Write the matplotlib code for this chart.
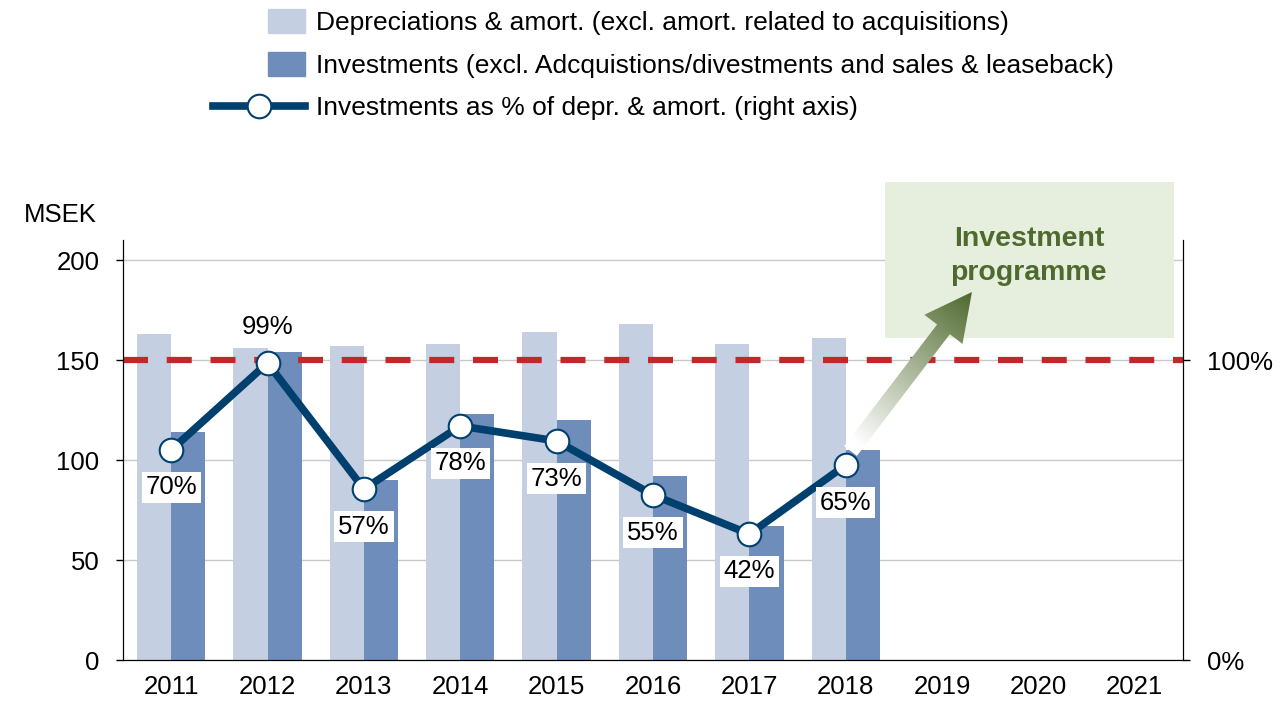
import numpy as np
import matplotlib.pyplot as plt
from matplotlib.patches import Patch, Rectangle, FancyArrow
from matplotlib.lines import Line2D
from matplotlib.colors import LinearSegmentedColormap
from matplotlib.transforms import IdentityTransform

plt.rcParams['font.family'] = ['Liberation Sans', 'DejaVu Sans']

# Data
years = ['2011', '2012', '2013', '2014', '2015', '2016', '2017', '2018', '2019', '2020', '2021']
depreciation = [163, 156, 157, 158, 164, 168, 158, 161]
investments = [114, 154, 90, 123, 120, 92, 67, 105]
invest_pct = [70, 99, 57, 78, 73, 55, 42, 65]
pct_labels = ['70%', '99%', '57%', '78%', '73%', '55%', '42%', '65%']

c_dep = '#C4CFE1'
c_inv = '#6E8DBA'
c_line = '#00406F'
c_red = '#C0282A'
c_green = '#4F6A2E'

fig = plt.figure(figsize=(12.88, 7.01), dpi=100)
ax = fig.add_axes([123 / 1288, 41 / 701, 1060 / 1288, 420 / 701])

x = np.arange(len(years))
n = len(depreciation)
w = 0.355
ax.bar(x[:n] - w / 2, depreciation, w, color=c_dep, zorder=2)
ax.bar(x[:n] + w / 2, investments, w, color=c_inv, zorder=2)
ax.set_xlim(-0.5, 10.5)
ax.set_ylim(0, 210)
ax.set_yticks([0, 50, 100, 150, 200])
ax.set_xticks(x)
ax.set_xticklabels(years)
ax.grid(axis='y', color='#C8C8C8', lw=1)
ax.set_axisbelow(True)
ax.axhline(150, color=c_red, lw=4.5, dashes=(4, 3), zorder=3)
ax.tick_params(axis='y', direction='out', length=5, width=1, pad=12, labelsize=18.5)
ax.tick_params(axis='x', length=0, pad=11, labelsize=18.5)
ax.spines['top'].set_visible(False)

# right axis for percentages
ax2 = ax.twinx()
ax2.set_ylim(0, 140)
ax2.set_yticks([0, 100])
ax2.set_yticklabels(['0%', '100%'])
ax2.tick_params(axis='y', direction='out', length=5, width=1, pad=12, labelsize=18.5)
ax2.spines['top'].set_visible(False)
ax2.plot(x[:n], invest_pct, color=c_line, lw=5.5, marker='o', ms=17,
         mfc='white', mec=c_line, mew=1.5, zorder=5)
for i, (v, lab) in enumerate(zip(invest_pct, pct_labels)):
    off = 26 if i == 1 else -27
    ax2.annotate(lab, (x[i], v), xytext=(0, off), textcoords='offset points',
                 ha='center', va='center', fontsize=18.5, zorder=6,
                 bbox=dict(boxstyle='square,pad=0.15', fc='white', ec='none'))

# "Investment programme" box
ax.add_patch(Rectangle((7.41, 161), 3.0, 78, fc='#E6EFDD', ec='none',
                       clip_on=False, zorder=3))
ax.text(8.9, 202, 'Investment\nprogramme', ha='center', va='center',
        fontsize=20.5, fontweight='bold', color=c_green, linespacing=1.38, zorder=5)

# gradient arrow
fig.canvas.draw()
p0 = ax.transData.transform((7.05, 104.5))
p1 = ax.transData.transform((8.31, 184))
d = p1 - p0
arrow = FancyArrow(p0[0], p0[1], d[0], d[1], width=16, head_width=48,
                   head_length=47, length_includes_head=True,
                   transform=IdentityTransform(), fc='none', ec='none')
ax.add_patch(arrow)
cmap = LinearSegmentedColormap.from_list('g', ['#FFFFFF', c_green])
gx = np.linspace(6.8, 8.7, 200)
gy = np.linspace(90, 200, 200)
GX, GY = np.meshgrid(gx, gy)
pts = ax.transData.transform(np.column_stack([GX.ravel(), GY.ravel()]))
t = ((pts - p0) @ d) / (d @ d)
t = np.clip(t, 0, 1).reshape(GX.shape)
im = ax.imshow(t, extent=(gx[0], gx[-1], gy[0], gy[-1]), origin='lower',
               cmap=cmap, aspect='auto', zorder=4, vmin=0.05, vmax=1.0)
im.set_clip_path(arrow)
ax.set_xlim(-0.5, 10.5)
ax.set_ylim(0, 210)

fig.text(24 / 1288, 1 - 215 / 701, 'MSEK', fontsize=18.5, va='center', ha='left')

# legends
h1 = [Patch(color=c_dep), Patch(color=c_inv)]
l1 = ['Depreciations & amort. (excl. amort. related to acquisitions)',
      'Investments (excl. Adcquistions/divestments and sales & leaseback)']
fig.legend(h1, l1, loc='upper left', bbox_to_anchor=(268 / 1288, 1 - 9 / 701),
           frameon=False, fontsize=19, handlelength=1.4, handleheight=1.02,
           handletextpad=0.42, labelspacing=0.63, borderpad=0, borderaxespad=0)
h2 = [Line2D([], [], color=c_line, lw=5.5, marker='o', ms=17, mfc='white',
             mec=c_line, mew=1.5)]
fig.legend(h2, ['Investments as % of depr. & amort. (right axis)'], loc='upper left',
           bbox_to_anchor=(213 / 1288, 1 - 96 / 701), frameon=False, fontsize=19,
           handlelength=3.48, handletextpad=0.42, borderpad=0, borderaxespad=0)

fig.savefig('out.png', dpi=100)
